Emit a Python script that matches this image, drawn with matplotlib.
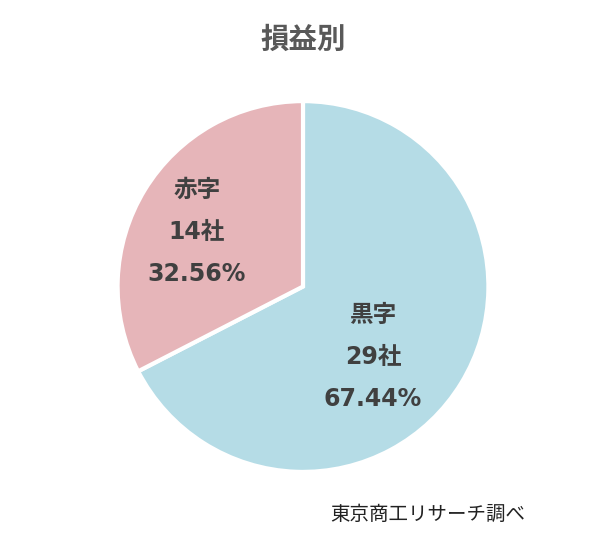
import matplotlib
matplotlib.use("Agg")
import matplotlib.pyplot as plt

plt.rcParams['font.family'] = ['DejaVu Sans', 'Noto Sans CJK JP']

labels = ['黒字', '赤字']
counts = [29, 14]
shares = [67.44, 32.56]
colors = ['#b5dce6', '#e6b5b9']

fig = plt.figure(figsize=(6.0, 5.59), dpi=100)
ax = fig.add_axes([0.196, 0.1556, 0.618, 0.6637])

wedges, _ = ax.pie(shares, colors=colors, startangle=90, counterclock=False,
                   wedgeprops=dict(edgecolor='white', linewidth=3))
ax.set_xlim(-1, 1)
ax.set_ylim(-1, 1)
ax.set_aspect('equal')

# label centres in pie units (radius 1)
label_pos = [(0.377, -0.38), (-0.572, 0.294)]
gap = 0.228
for (x, y), lab, n, p in zip(label_pos, labels, counts, shares):
    for k, s in enumerate([lab, '%d社' % n, '%.2f%%' % p]):
        ax.text(x, y + gap * (1 - k), s, ha='center', va='center',
                fontsize=17, fontweight='bold', color='#404040')

fig.text(0.506, 0.928, '損益別', ha='center', va='center', fontsize=20.5,
         fontweight='bold', color='#595959')
fig.text(0.713, 0.079, '東京商工リサーチ調べ', ha='center', va='center',
         fontsize=14, color='#222222')

fig.savefig('out.png', dpi=100)
